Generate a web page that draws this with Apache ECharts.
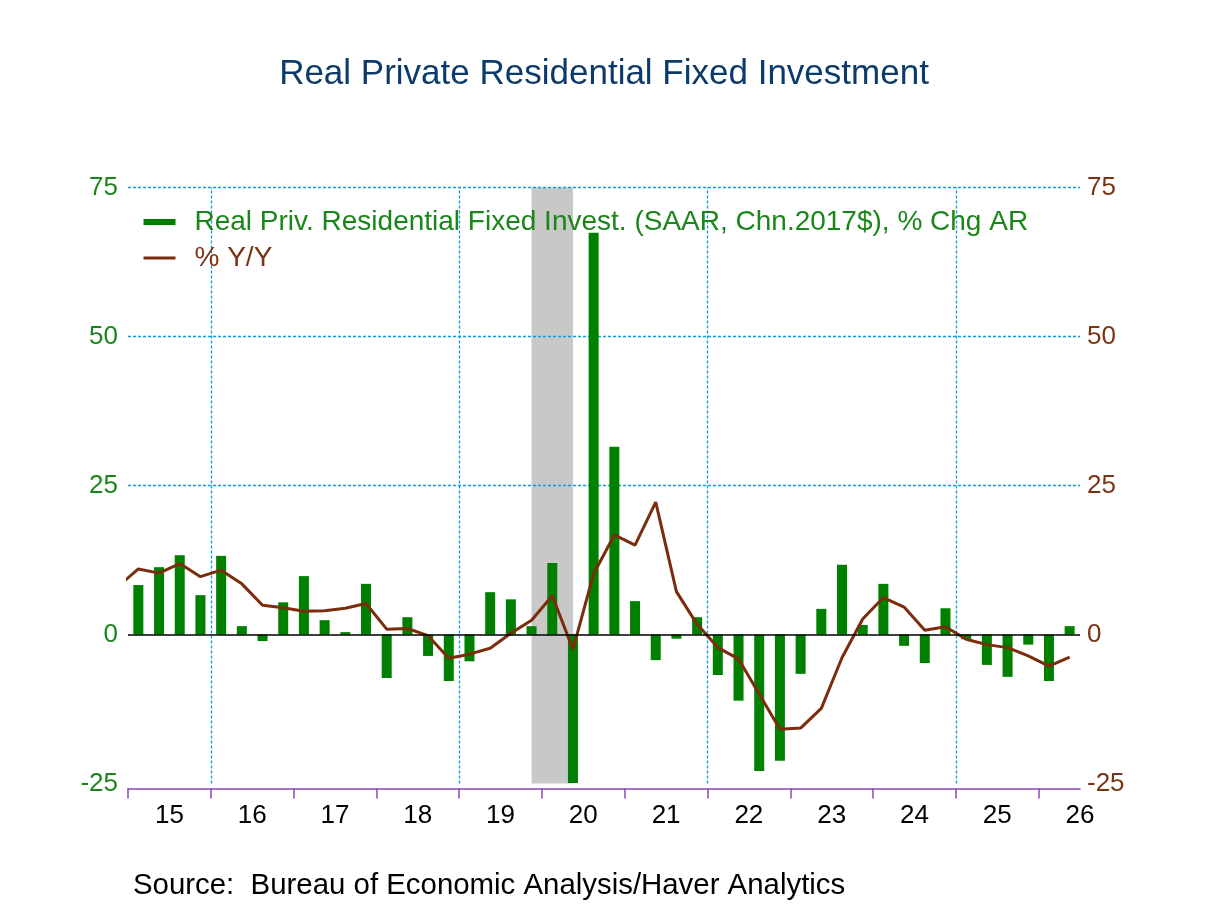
<!DOCTYPE html>
<html>
<head>
<meta charset="utf-8">
<title>Real Private Residential Fixed Investment</title>
<script src="https://cdn.jsdelivr.net/npm/echarts@6/dist/echarts.min.js"></script>
<style>
    html, body { margin: 0; padding: 0; background: #fff; }
    #chart { width: 1208px; height: 906px; }
</style>
</head>
<body>
<div id="chart"></div>
<script>
// 季度（2015Q1 - 2026Q2）
var quarters = [
    "2015Q1", "2015Q2", "2015Q3", "2015Q4",
    "2016Q1", "2016Q2", "2016Q3", "2016Q4",
    "2017Q1", "2017Q2", "2017Q3", "2017Q4",
    "2018Q1", "2018Q2", "2018Q3", "2018Q4",
    "2019Q1", "2019Q2", "2019Q3", "2019Q4",
    "2020Q1", "2020Q2", "2020Q3", "2020Q4",
    "2021Q1", "2021Q2", "2021Q3", "2021Q4",
    "2022Q1", "2022Q2", "2022Q3", "2022Q4",
    "2023Q1", "2023Q2", "2023Q3", "2023Q4",
    "2024Q1", "2024Q2", "2024Q3", "2024Q4",
    "2025Q1", "2025Q2", "2025Q3", "2025Q4",
    "2026Q1", "2026Q2"
];

// % Chg AR（柱）
var chgAR = [
    8.3, 11.3, 13.3, 6.6,
    13.2, 1.4, -1.1, 5.4,
    9.8, 2.4, 0.4, 8.5,
    -7.3, 2.9, -3.6, -7.8,
    -4.5, 7.1, 5.9, 1.4,
    12.0, -24.9, 67.4, 31.5,
    5.6, -4.3, -0.7, 2.9,
    -6.8, -11.1, -22.9, -21.2,
    -6.6, 4.3, 11.7, 1.6,
    8.5, -1.9, -4.8, 4.4,
    -0.8, -5.1, -7.1, -1.7,
    -7.8, 1.4
];

// % Y/Y（线），前面多一个 2014Q4 的点，被坐标轴裁掉
var yoyPrevQuarter = "2014Q4";
var yoyPrevValue = 8.0;
var yoy = [
    11.0, 10.3, 11.9, 9.7,
    10.8, 8.5, 4.9, 4.5,
    3.9, 4.0, 4.4, 5.2,
    0.9, 1.0, -0.2, -4.0,
    -3.3, -2.3, 0.2, 2.4,
    6.5, -2.5, 10.2, 16.7,
    15.0, 22.2, 7.2, 1.7,
    -2.2, -4.1, -10.0, -15.9,
    -15.7, -12.4, -3.9, 2.6,
    6.2, 4.6, 0.7, 1.3,
    -0.8, -1.7, -2.2, -3.6,
    -5.3, -3.8
];

// 年份刻度
var years = [2015, 2016, 2017, 2018, 2019, 2020, 2021, 2022, 2023, 2024, 2025, 2026];
var yearLabels = ["15", "16", "17", "18", "19", "20", "21", "22", "23", "24", "25", "26"];
// 竖向虚线所在年份
var gridYears = [2016, 2019, 2022, 2025];
// 横向虚线
var gridValues = [25, 50, 75];
// 衰退期阴影
var recession = ["2019Q4", "2020Q2"];

var firstYear = 2015;
var quarterCount = quarters.length;

// 季度 -> x 轴位置（季度中心）
function quarterPos(q) {
    var y = parseInt(q.slice(0, 4));
    var n = parseInt(q.slice(5));
    return (y - firstYear) * 4 + (n - 1) + 0.5;
}
function yearPos(y) {
    return (y - firstYear) * 4;
}

var barData = quarters.map(function (q, i) {
    return [quarterPos(q), chgAR[i]];
});
var lineData = [[quarterPos(yoyPrevQuarter), yoyPrevValue]].concat(quarters.map(function (q, i) {
    return [quarterPos(q), yoy[i]];
}));

var tickValues = years.map(yearPos);
var labelValues = years.map(function (y) {
    return Math.min(yearPos(y) + 2, quarterCount);
});

var FONT = "'Liberation Sans', Arial, sans-serif";
var GREEN = "#008000";
var GREEN_TEXT = "#1a861a";
var BROWN = "#7b2c0c";
var BROWN_TEXT = "#7a3414";
var GRID = "#0a9fd8";
var PURPLE = "#8a45b8";

var chart = echarts.init(document.getElementById("chart"));

var option = {
    backgroundColor: "#fff",
    animation: false,
    title: [{
        text: "Real Private Residential Fixed Investment",
        left: "center",
        top: 52,
        textStyle: { fontFamily: FONT, fontSize: 35, fontWeight: "normal", color: "#0c3b6b" }
    }, {
        text: "Source:  Bureau of Economic Analysis/Haver Analytics",
        left: 128,
        top: 866,
        textStyle: { fontFamily: FONT, fontSize: 29.4, fontWeight: "normal", color: "#000" }
    }],
    legend: {
        orient: "vertical",
        left: 137,
        top: 203,
        itemWidth: 32,
        itemHeight: 6,
        itemGap: 8,
        selectedMode: false,
        textStyle: { fontFamily: FONT, fontSize: 28, padding: [0, 0, 0, 14] },
        data: [
            { name: "Real Priv. Residential Fixed Invest. (SAAR, Chn.2017$), % Chg AR", icon: "rect", textStyle: { color: GREEN_TEXT } },
            { name: "% Y/Y", itemStyle: { opacity: 0 }, lineStyle: { width: 3, color: BROWN }, textStyle: { color: BROWN_TEXT } }
        ]
    },
    grid: { left: 128, right: 128, top: 187.5, bottom: 122.5 },
    xAxis: {
        type: "value",
        min: 0,
        max: quarterCount,
        offset: 5,
        axisLine: { show: true, onZero: false, lineStyle: { color: PURPLE, width: 1.5 } },
        axisTick: { show: true, length: 10, customValues: tickValues, lineStyle: { color: PURPLE, width: 1.5 } },
        axisLabel: {
            customValues: labelValues,
            margin: 14,
            fontFamily: FONT,
            fontSize: 26,
            color: "#000",
            formatter: function (v) {
                var i = labelValues.indexOf(v);
                return i >= 0 ? yearLabels[i] : "";
            }
        },
        splitLine: { show: false }
    },
    yAxis: [{
        type: "value",
        min: -25,
        max: 75,
        interval: 25,
        axisLine: { show: false },
        axisTick: { show: false },
        splitLine: { show: false },
        axisLabel: { margin: 10, fontFamily: FONT, fontSize: 26, color: GREEN_TEXT }
    }, {
        type: "value",
        min: -25,
        max: 75,
        interval: 25,
        position: "right",
        axisLine: { show: false },
        axisTick: { show: false },
        splitLine: { show: false },
        axisLabel: { margin: 7, fontFamily: FONT, fontSize: 26, color: BROWN_TEXT }
    }],
    series: [{
        // 网格线和衰退阴影
        name: "helper",
        type: "line",
        data: [],
        silent: true,
        z: 1,
        markArea: {
            silent: true,
            z: 0,
            itemStyle: { color: "#c8c8c8" },
            data: [[{ xAxis: quarterPos(recession[0]) }, { xAxis: quarterPos(recession[1]) }]]
        },
        markLine: {
            silent: true,
            z: 1,
            symbol: "none",
            label: { show: false },
            animation: false,
            lineStyle: { color: GRID, type: [3, 2], width: 1.3, opacity: 1 },
            emphasis: { disabled: true },
            data: gridYears.map(function (y) {
                return { xAxis: yearPos(y) };
            }).concat(gridValues.map(function (v) {
                return { yAxis: v };
            }))
        }
    }, {
        name: "Real Priv. Residential Fixed Invest. (SAAR, Chn.2017$), % Chg AR",
        type: "bar",
        data: barData,
        barWidth: 10,
        z: 2,
        itemStyle: { color: GREEN },
        markLine: {
            silent: true,
            symbol: "none",
            label: { show: false },
            animation: false,
            lineStyle: { color: "#000", type: "solid", width: 1.5 },
            data: [{ yAxis: 0 }]
        }
    }, {
        name: "% Y/Y",
        type: "line",
        yAxisIndex: 1,
        data: lineData,
        symbol: "none",
        clip: true,
        z: 3,
        lineStyle: { color: BROWN, width: 3 },
        itemStyle: { color: BROWN }
    }]
};

chart.setOption(option);

window.addEventListener("resize", function () {
    chart.resize();
});
</script>
</body>
</html>
